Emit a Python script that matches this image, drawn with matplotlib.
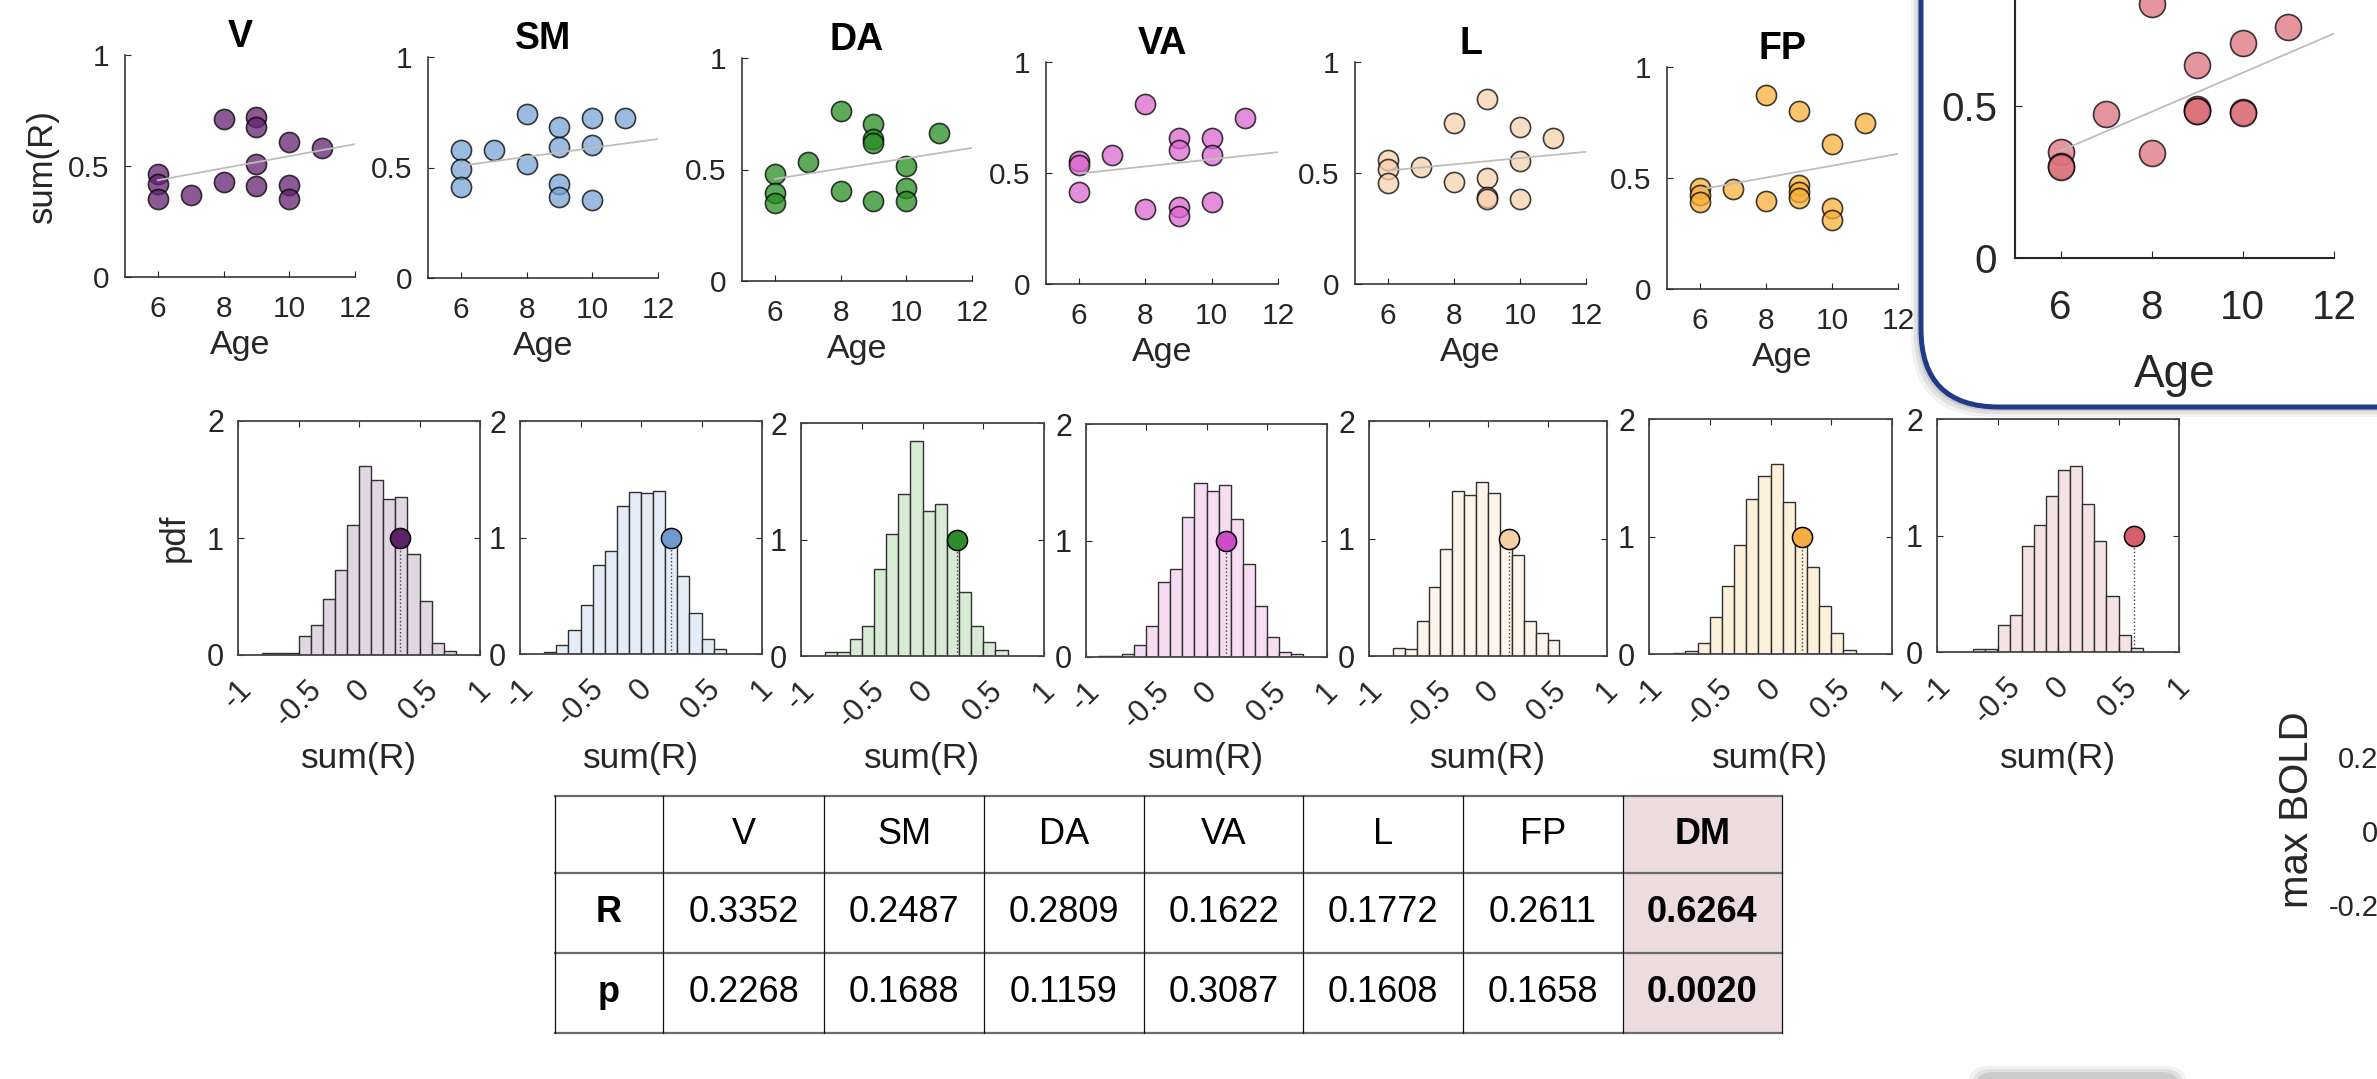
import numpy as np
import matplotlib.pyplot as plt
from matplotlib.patches import FancyBboxPatch, Rectangle

plt.rcParams['font.family'] = ['Liberation Sans', 'DejaVu Sans']
plt.rcParams['axes.unicode_minus'] = False

# ---- data ----
networks = ['V', 'SM', 'DA', 'VA', 'L', 'FP', 'DM']
age = [6, 6, 6, 7, 8, 8, 9, 9, 9, 9, 10, 10, 10, 11]

sumr_V = [0.466, 0.421, 0.353, 0.368, 0.710, 0.429, 0.722, 0.677, 0.511, 0.411, 0.609, 0.414, 0.353, 0.582]
sumr_SM = [0.578, 0.495, 0.412, 0.578, 0.744, 0.517, 0.683, 0.593, 0.424, 0.367, 0.726, 0.600, 0.354, 0.726]
sumr_DA = [0.480, 0.396, 0.348, 0.535, 0.763, 0.403, 0.705, 0.636, 0.618, 0.360, 0.517, 0.415, 0.358, 0.663]
sumr_VA = [0.553, 0.538, 0.414, 0.583, 0.811, 0.338, 0.658, 0.605, 0.347, 0.308, 0.658, 0.583, 0.368, 0.748]
sumr_L = [0.558, 0.516, 0.454, 0.528, 0.723, 0.461, 0.835, 0.476, 0.394, 0.382, 0.708, 0.554, 0.383, 0.659]
sumr_FP = [0.454, 0.424, 0.394, 0.449, 0.873, 0.397, 0.801, 0.469, 0.439, 0.409, 0.653, 0.364, 0.311, 0.749]
sumr_DM = [0.350, 0.301, 0.298, 0.473, 0.345, 0.837, 0.635, 0.490, 0.485, 0.482, 0.706, 0.481, 0.478, 0.760]
sumr = [sumr_V, sumr_SM, sumr_DA, sumr_VA, sumr_L, sumr_FP, sumr_DM]

# null distributions (pdf per 0.1 bin), first bin edge for each
pdf_V = [0.02, 0.014, 0.02, 0.164, 0.258, 0.479, 0.729, 1.11, 1.613, 1.492, 1.334, 1.349, 0.861, 0.465, 0.10, 0.03]
pdf_SM = [0.02, 0.077, 0.207, 0.422, 0.76, 0.88, 1.27, 1.392, 1.383, 1.395, 1.02, 0.666, 0.35, 0.13, 0.043]
pdf_DA = [0.037, 0.037, 0.143, 0.26, 0.751, 1.051, 1.389, 1.843, 1.243, 1.309, 0.98, 0.551, 0.26, 0.117, 0.051]
pdf_VA = [0.006, 0.006, 0.029, 0.1, 0.263, 0.64, 0.757, 1.2, 1.497, 1.429, 1.477, 1.183, 0.8, 0.434, 0.171, 0.043, 0.026]
pdf_L = [0.071, 0.062, 0.298, 0.587, 0.908, 1.404, 1.367, 1.481, 1.387, 1.0, 0.862, 0.295, 0.199, 0.133]
pdf_FP = [0.006, 0.028, 0.091, 0.313, 0.58, 0.929, 1.318, 1.517, 1.619, 1.293, 0.95, 0.744, 0.409, 0.182, 0.034]
pdf_DM = [0.026, 0.026, 0.235, 0.315, 0.913, 1.093, 1.336, 1.559, 1.594, 1.273, 0.95, 0.484, 0.149, 0.034]
pdfs = [pdf_V, pdf_SM, pdf_DA, pdf_VA, pdf_L, pdf_FP, pdf_DM]
hist_start = [-0.8, -0.8, -0.8, -0.9, -0.8, -0.8, -0.7]

r_vals = [0.3352, 0.2487, 0.2809, 0.1622, 0.1772, 0.2611, 0.6264]
p_vals = [0.2268, 0.1688, 0.1159, 0.3087, 0.1608, 0.1658, 0.0020]

bold_ticks = ['0.2', '0', '-0.2']

# ---- style ----
scatter_face = ['#642372', '#7AA4D6', '#278E23', '#DA68D0', '#F8D2AE', '#F7B03A', '#DC727C']
hist_face = ['#E2D6E5', '#E3ECF7', '#D8EBD5', '#F6DDF4', '#FEF4EA', '#FEF1DC', '#F5E2E5']
dot_face = ['#5A2268', '#6F9BD1', '#2E8B2E', '#CC4CC6', '#F7CFA6', '#F6AC3F', '#D65F6C']
ink = '#262626'

W, H = 2377, 1079
fig = plt.figure(figsize=(W / 100, H / 100), dpi=100)


def px_axes(x0, y0, x1, y1, **kw):
    return fig.add_axes([x0 / W, 1 - y1 / H, (x1 - x0) / W, (y1 - y0) / H], **kw)


scatter_rects = [(125, 55, 355, 277), (428, 57, 658, 278), (742, 58, 972, 281),
                 (1046, 62, 1278, 284), (1355, 62, 1586, 284), (1667, 67, 1898, 289),
                 (2015, -46, 2334, 258)]
hist_rects = [(238, 421, 480, 655), (520, 421, 762, 654), (801, 423, 1044, 656),
              (1086, 424, 1327, 657), (1369, 421, 1607, 656), (1649, 419, 1892, 654),
              (1937, 419, 2179, 652)]

# ---- canvas for the DM box and the table ----
canvas = fig.add_axes([0, 0, 1, 1], zorder=1)
canvas.set_xlim(0, W)
canvas.set_ylim(H, 0)
canvas.axis('off')
canvas.patch.set_visible(False)

for k, a in [(10, 0.05), (7, 0.07), (4, 0.1)]:
    canvas.add_patch(FancyBboxPatch((1921 - k, -150), 700, 557 + k,
                                    boxstyle='round,pad=0,rounding_size=80',
                                    fc=(0, 0, 0, a), ec='none'))
canvas.add_patch(FancyBboxPatch((1921, -150), 700, 557,
                                boxstyle='round,pad=0,rounding_size=78',
                                fc='white', ec='#213A86', lw=3.6))

# shadow of another box at the bottom edge
for k, a in [(8, 0.05), (5, 0.07), (2, 0.09)]:
    canvas.add_patch(FancyBboxPatch((1976 - k, 1074 - k), 203 + 2 * k, 40,
                                    boxstyle='round,pad=0,rounding_size=20',
                                    fc=(0, 0, 0, a), ec='none'))

# ---- scatter panels ----
for i, net in enumerate(networks):
    big = net == 'DM'
    ax = px_axes(*scatter_rects[i], zorder=2 if big else 0)
    ax.patch.set_visible(False)
    ax.scatter(age, sumr[i], s=350 if big else 210, c=scatter_face[i], alpha=0.75,
               edgecolors='k', linewidths=1.2, zorder=2)
    slope, icpt = np.polyfit(age, sumr[i], 1)
    xl = np.array([6, 12])
    ax.plot(xl, icpt + slope * xl, color='#BDBDBD', lw=1.3, zorder=3)
    ax.set_xlim(5, 12)
    ax.set_ylim(0, 1)
    ax.set_xticks([6, 8, 10, 12])
    if big:
        ax.set_yticks([0, 0.5])
        ax.set_yticklabels(['0', '0.5'])
    else:
        ax.set_yticks([0, 0.5, 1])
        ax.set_yticklabels(['0', '0.5', '1'])
    for s in ['top', 'right']:
        ax.spines[s].set_visible(False)
    for s in ['left', 'bottom']:
        ax.spines[s].set_color(ink)
        ax.spines[s].set_linewidth(1.5 if big else 1.1)
    ax.tick_params(direction='in', length=5 if big else 4, color=ink, labelcolor=ink,
                   labelsize=29 if big else 21.5)
    ax.tick_params(axis='x', pad=22 if big else 13)
    ax.tick_params(axis='y', pad=13 if big else 11)
    ax.set_xlabel('Age', fontsize=33 if big else 24.5, color=ink, labelpad=19 if big else 5)
    if not big:
        ax.set_title(net, fontsize=27, fontweight='bold', pad=1)
    if i == 0:
        ax.set_ylabel('sum(R)', fontsize=25, color=ink, labelpad=7)

# ---- null distribution histograms ----
for i, net in enumerate(networks):
    x0, y0, x1, y1 = hist_rects[i]
    ax = px_axes(x0, y0, x1, y1)
    pdf = pdfs[i]
    lefts = hist_start[i] + 0.1 * np.arange(len(pdf))
    ax.bar(lefts, pdf, width=0.1, align='edge', color=hist_face[i],
           edgecolor='#303030', linewidth=1.0)
    ax.plot([r_vals[i], r_vals[i]], [0, 1], ls=':', color='#404040', lw=1.0)
    ax.plot(r_vals[i], 1, 'o', ms=14.5, mfc=dot_face[i], mec='k', mew=1.1)
    ax.set_xlim(-1, 1)
    ax.set_ylim(0, 2)
    ax.set_xticks([-1, -0.5, 0, 0.5, 1])
    ax.set_xticklabels(['-1', '-0.5', '0', '0.5', '1'], rotation=45)
    ax.set_yticks([0, 1, 2])
    ax.set_yticklabels(['0', '1', '2'])
    for s in ax.spines.values():
        s.set_color('#454545')
        s.set_linewidth(1.3)
    ax.tick_params(direction='in', top=True, right=True, length=4, color=ink,
                   labelcolor=ink, labelsize=22)
    ax.tick_params(axis='x', pad=14)
    ax.tick_params(axis='y', pad=10)
    ax.set_xlabel('sum(R)', fontsize=25.5, color=ink)
    # same label height on every panel
    ax.xaxis.set_label_coords(0.5, (y1 - 742) / (y1 - y0))
    if i == 0:
        ax.set_ylabel('pdf', fontsize=25, color=ink, labelpad=12)

# ---- table of R and p ----
col_x = [555, 663, 824, 984, 1144, 1303, 1463, 1623, 1782]
row_y = [796, 873, 953, 1033]
canvas.add_patch(Rectangle((col_x[-2], row_y[0]), col_x[-1] - col_x[-2], row_y[-1] - row_y[0],
                           fc='#EDDCDF', ec='none'))
for y in row_y:
    canvas.plot([col_x[0], col_x[-1]], [y, y], color='#6A6A6A', lw=1.6)
for x in col_x:
    canvas.plot([x, x], [row_y[0], row_y[-1]], color='#111111', lw=0.9)

rows = [('', networks), ('R', [f'{v:.4f}' for v in r_vals]), ('p', [f'{v:.4f}' for v in p_vals])]
for j, (lab, cells) in enumerate(rows):
    yc = (row_y[j] + row_y[j + 1]) / 2
    canvas.text((col_x[0] + col_x[1]) / 2, yc, lab, fontsize=26, fontweight='bold',
                ha='center', va='center')
    for k, txt in enumerate(cells):
        canvas.text((col_x[k + 1] + col_x[k + 2]) / 2, yc, txt, fontsize=26,
                    fontweight='bold' if k == len(cells) - 1 else 'normal',
                    ha='center', va='center')

# ---- cut-off panel at the right edge ----
axb = px_axes(2395, 757, 2500, 905)
axb.set_ylim(-0.2, 0.2)
axb.set_yticks([0.2, 0, -0.2])
axb.set_yticklabels(bold_ticks)
axb.set_xticks([])
for s in axb.spines.values():
    s.set_visible(False)
axb.tick_params(axis='y', length=0, labelsize=21, labelcolor=ink, pad=12)
fig.text(2297 / W, 1 - 810 / H, 'max BOLD', rotation=90, fontsize=29, color=ink,
         ha='center', va='center')

fig.savefig('out.png', dpi=100)
